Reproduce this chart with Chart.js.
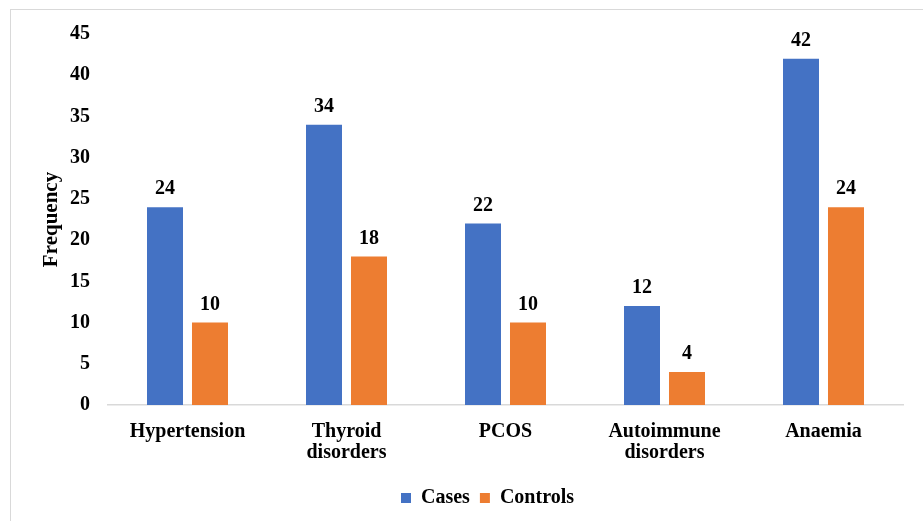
<!DOCTYPE html>
<html>
<head>
<meta charset="utf-8">
<script src="https://cdn.jsdelivr.net/npm/chart.js@4/dist/chart.umd.min.js"></script>
<style>
  html, body { margin: 0; padding: 0; background: #fff; }
  #wrap { position: relative; width: 923px; height: 521px; overflow: hidden; }
  #frame { position: absolute; left: 10px; top: 9px; width: 940px; height: 540px; border: 1px solid #d9d9d9; box-sizing: border-box; }
  canvas { position: absolute; left: 0; top: 0; }
</style>
</head>
<body>
<div id="wrap">
  <div id="frame"></div>
  <canvas id="c" width="923" height="521"></canvas>
</div>
<script>
// Comorbidities — cases vs controls
const categories = [["Hypertension"], ["Thyroid", "disorders"], ["PCOS"], ["Autoimmune", "disorders"], ["Anaemia"]];
const casesValues = [24, 34, 22, 12, 42];
const controlValues = [10, 18, 10, 4, 24];
const yTicks = [0, 5, 10, 15, 20, 25, 30, 35, 40, 45];

const FONT = "'Liberation Serif', 'Times New Roman', serif";

// draws the value above each bar (no datalabels plugin available offline)
const valueLabels = {
  id: "valueLabels",
  afterDatasetsDraw(chart) {
    const { ctx } = chart;
    ctx.save();
    ctx.font = `bold 20px ${FONT}`;
    ctx.fillStyle = "#000";
    ctx.textAlign = "center";
    ctx.textBaseline = "bottom";
    chart.data.datasets.forEach((ds, di) => {
      chart.getDatasetMeta(di).data.forEach((bar, i) => {
        ctx.fillText(String(ds.data[i]), bar.x, bar.y - 8);
      });
    });
    ctx.restore();
  },
};

// Excel centres the legend a bit right of the canvas middle
const legendShift = {
  id: "legendShift",
  afterLayout(chart) {
    if (!chart.legend) return;
    chart.legend.left += 36;
    chart.legend.right += 36;
  },
};

new Chart(document.getElementById("c"), {
  type: "bar",
  data: {
    labels: categories,
    datasets: [
      { label: "Cases", data: casesValues, backgroundColor: "#4472C4" },
      { label: "Controls", data: controlValues, backgroundColor: "#ED7D31" },
    ],
  },
  options: {
    responsive: false,
    animation: false,
    categoryPercentage: 0.566,
    barPercentage: 0.8,
    layout: { padding: { top: 34, right: 20, bottom: 3, left: 0 } },
    plugins: {
      legend: {
        position: "bottom",
        labels: {
          boxWidth: 10,
          boxHeight: 10,
          padding: 10,
          color: "#000",
          font: { family: FONT, size: 20, weight: "bold" },
        },
      },
      tooltip: { enabled: false },
    },
    scales: {
      x: {
        grid: { display: false, drawTicks: false },
        border: { display: true, color: "#d9d9d9", width: 1.5 },
        ticks: {
          color: "#000",
          padding: 16,
          maxRotation: 0,
          font: { family: FONT, size: 20, weight: "bold", lineHeight: 1.05 },
        },
        afterFit(s) { s.height = 73; },
      },
      y: {
        min: 0,
        max: 45,
        afterBuildTicks(s) { s.ticks = yTicks.map((v) => ({ value: v })); },
        grid: { display: false, drawTicks: false },
        border: { display: false },
        ticks: {
          color: "#000",
          padding: 18,
          font: { family: FONT, size: 20, weight: "bold" },
        },
        title: {
          display: true,
          text: "Frequency",
          color: "#000",
          padding: { top: 39, bottom: 0 },
          font: { family: FONT, size: 21, weight: "bold" },
        },
        afterFit(s) { s.width = 108; },
      },
    },
  },
  plugins: [valueLabels, legendShift],
});
</script>
</body>
</html>
